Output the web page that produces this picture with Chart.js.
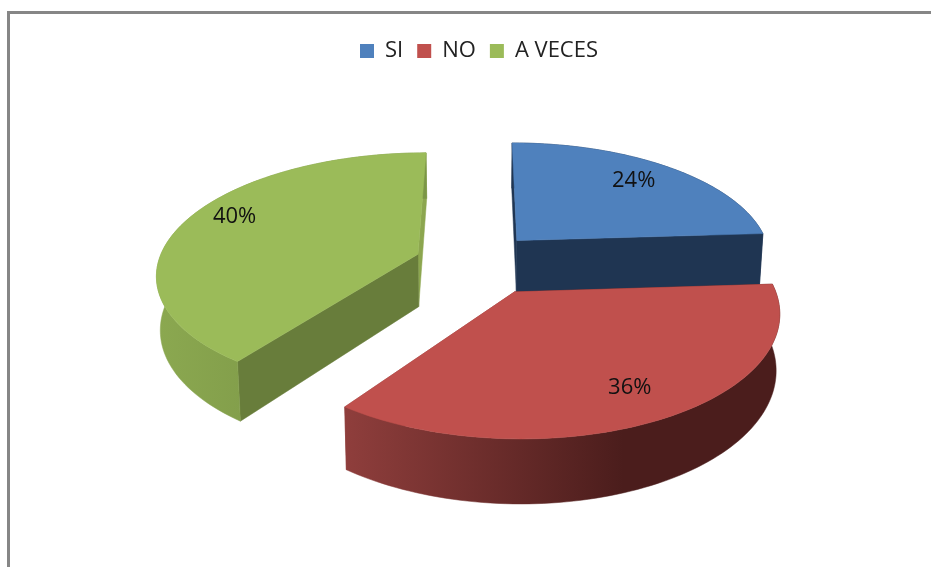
<!DOCTYPE html>
<html><head><meta charset="utf-8">
<style>
html,body{margin:0;padding:0;background:#fff;overflow:hidden;width:931px;height:567px}
#frame{position:absolute;left:7px;top:11px;width:924px;height:556px;border-left:3px solid #868686;border-top:3px solid #868686;box-sizing:border-box;overflow:hidden}
canvas{display:block}
</style>
<script src="https://cdn.jsdelivr.net/npm/chart.js@4"></script>
</head><body>
<div id="frame"><canvas id="c" width="938" height="553" style="width:938px;height:553px"></canvas></div>
<script>
const categories = ['SI', 'NO', 'A VECES'];
const shares = [24, 36, 40];
const topColors = ['#4f81bd', '#c0504d', '#9bbb59'];
const startWallColors = ['#1f3552', '#4b1d1c', '#687d3b'];
const endWallColors = ['#1f3552', '#8f3e3c', '#8ca64f'];
const curveFrom = ['#1f3552', '#8f3e3c', '#8ba850'];
const curveTo = ['#1f3552', '#4b1d1c', '#7b9646'];
const explode = [55, 75, 66];
const drawOrder = [0, 2, 1];
// small per-slice corrections of the projected pie
const nudgeX = [1, -2, 1];
const nudgeY = [-1, 1, 4];
const radiusScale = [1, 0.985, 1.02];
const labelNudgeX = [-6, -2, 3];
const labelNudgeY = [0, -2, -10];

const DIST = 1715, TILT = 0.459, DEPTH = 53, LABEL_AT = 0.8;

function projector(arc, i) {
  const mid = (arc.startAngle + arc.endAngle) / 2;
  const off = arc.options.offset;
  const ox = Math.cos(mid) * off, oy = Math.sin(mid) * off;
  return function (angle, r, z) {
    const X = ox + Math.cos(angle) * r * radiusScale[i], Y = oy + Math.sin(angle) * r * radiusScale[i];
    const f = DIST / (DIST - Y);
    return {
      x: arc.x + nudgeX[i] + X * f * (1 - 0.012 * z),
      y: arc.y + nudgeY[i] + (Y * TILT + z * DEPTH) * f
    };
  };
}

function poly(ctx, pts, fill) {
  ctx.beginPath();
  pts.forEach((p, i) => i ? ctx.lineTo(p.x, p.y) : ctx.moveTo(p.x, p.y));
  ctx.closePath();
  ctx.fillStyle = fill;
  ctx.fill();
  ctx.strokeStyle = fill;
  ctx.lineWidth = 0.5;
  ctx.stroke();
}

const pie3d = {
  id: 'pie3d',
  beforeDatasetDraw(chart, args) {
    const ctx = chart.ctx, arcs = chart.getDatasetMeta(args.index).data;
    drawOrder.forEach(i => {
      const arc = arcs[i], P = projector(arc, i), R = arc.outerRadius;
      const n = 90, top = [], bottom = [];
      for (let k = 0; k <= n; k++) {
        const a = arc.startAngle + (arc.endAngle - arc.startAngle) * k / n;
        top.push(P(a, R, 0));
        bottom.push(P(a, R, 1));
      }
      const apexT = P(0, 0, 0), apexB = P(0, 0, 1);
      const xs = top.map(p => p.x), minX = Math.min(...xs), maxX = Math.max(...xs);
      const grad = ctx.createLinearGradient(minX, 0, minX + (maxX - minX) * 0.64, 0);
      grad.addColorStop(0, curveFrom[i]);
      grad.addColorStop(1, curveTo[i]);
      poly(ctx, [apexT, top[n], bottom[n], apexB], endWallColors[i]);
      poly(ctx, [apexT, top[0], bottom[0], apexB], startWallColors[i]);
      poly(ctx, top.concat(bottom.slice().reverse()), grad);
      poly(ctx, [apexT].concat(top), topColors[i]);
    });
    return false;
  },
  afterDatasetsDraw(chart) {
    const ctx = chart.ctx, arcs = chart.getDatasetMeta(0).data;
    ctx.save();
    ctx.font = '22px "Open Sans"';
    ctx.fillStyle = '#111';
    ctx.textAlign = 'center';
    ctx.textBaseline = 'middle';
    arcs.forEach((arc, i) => {
      const mid = (arc.startAngle + arc.endAngle) / 2;
      const p = projector(arc, i)(mid, arc.outerRadius * LABEL_AT, 0);
      ctx.fillText(shares[i] + '%', p.x + labelNudgeX[i], p.y + labelNudgeY[i]);
    });
    ctx.restore();
  }
};

new Chart(document.getElementById('c'), {
  type: 'pie',
  plugins: [pie3d],
  data: {
    labels: categories,
    datasets: [{
      data: shares,
      backgroundColor: topColors,
      borderWidth: 0,
      offset: explode
    }]
  },
  options: {
    responsive: false,
    animation: false,
    radius: 255,
    layout: { padding: { top: 12, bottom: 120, left: 0, right: 0 } },
    plugins: {
      tooltip: { enabled: false },
      legend: {
        position: 'top',
        labels: {
          boxWidth: 14,
          boxHeight: 14,
          padding: 14,
          color: '#222',
          font: { family: '"Open Sans"', size: 22 }
        }
      }
    }
  }
});
</script>
</body></html>
